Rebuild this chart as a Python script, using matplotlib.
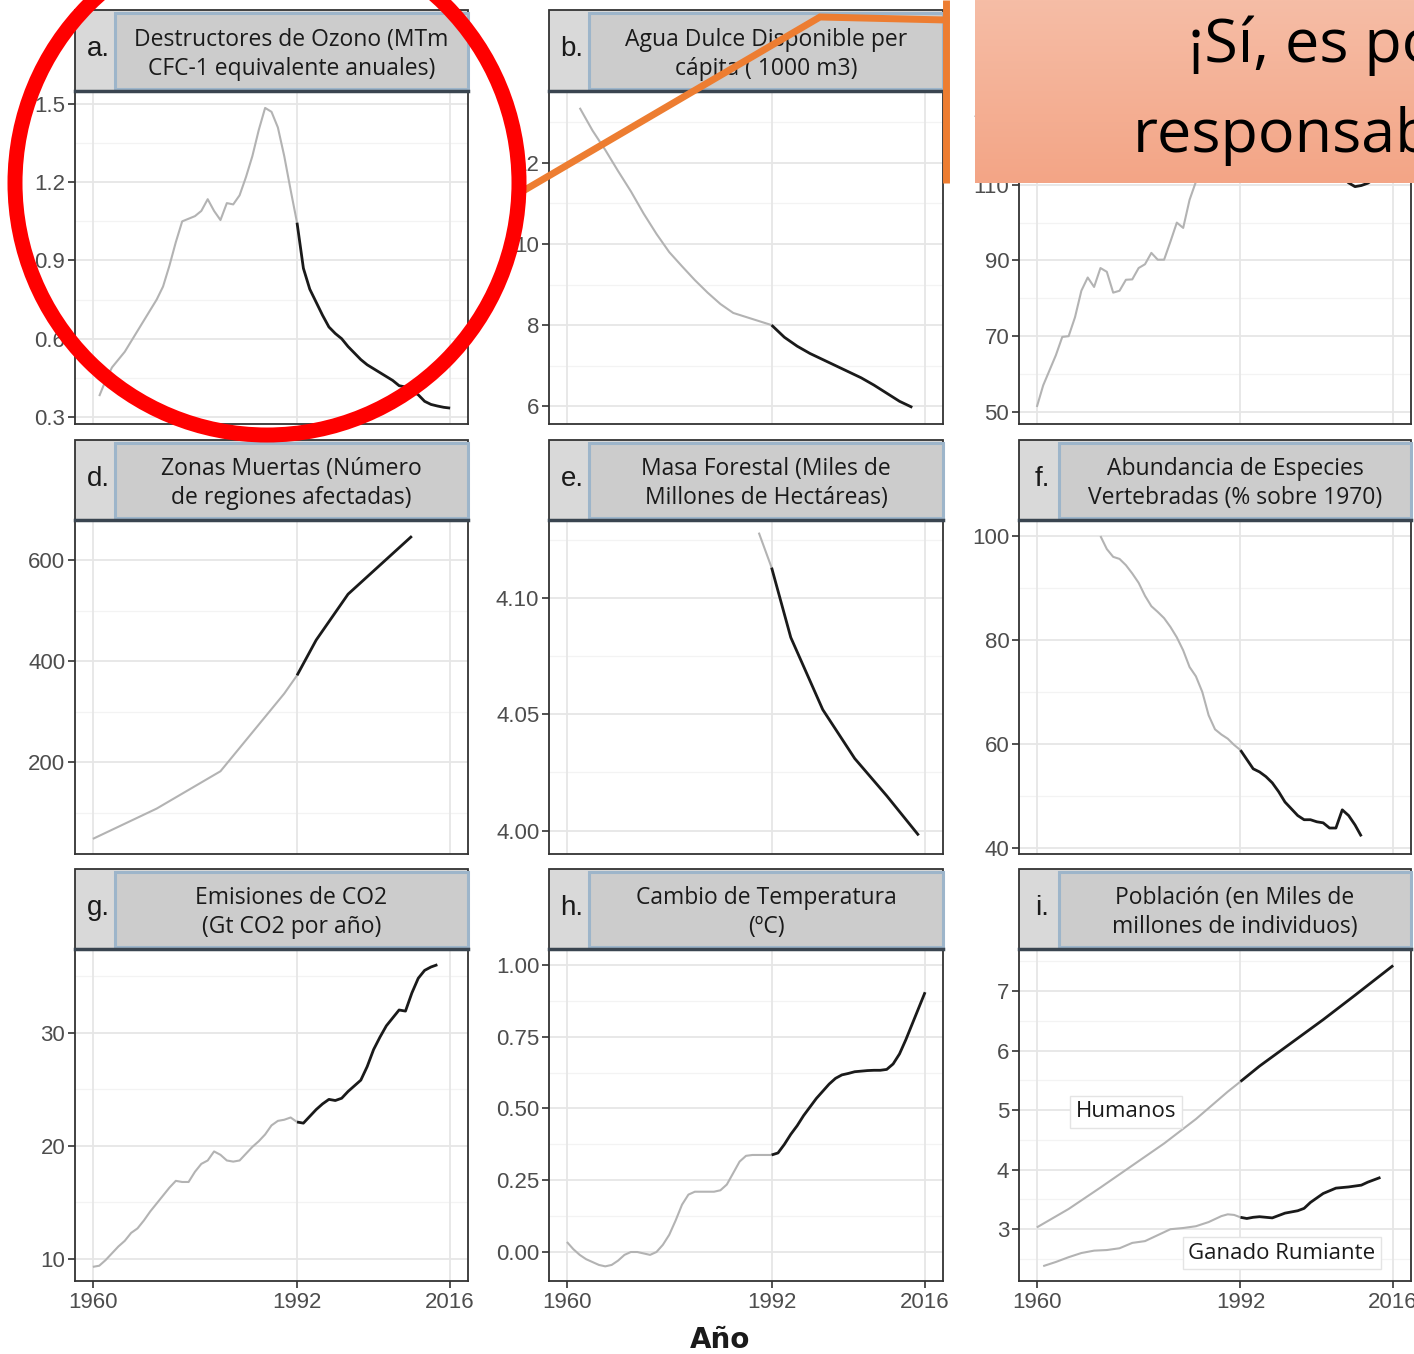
import numpy as np
import matplotlib.pyplot as plt
from matplotlib.patches import Rectangle, Ellipse
from matplotlib.lines import Line2D

W, H = 1414, 1354

# ---- data ----
years_ozone = list(range(1961, 2017))
ozone = [0.38, 0.44, 0.49, 0.52, 0.55, 0.59, 0.63, 0.67, 0.71,
         0.75, 0.80, 0.88, 0.97, 1.05, 1.06, 1.07, 1.09, 1.135, 1.09,
         1.055, 1.12, 1.115, 1.15, 1.22, 1.30, 1.40, 1.485, 1.47, 1.41,
         1.30, 1.17, 1.045, 0.87, 0.79, 0.74, 0.69, 0.645, 0.62, 0.60,
         0.57, 0.545, 0.52, 0.50, 0.485, 0.47, 0.455, 0.44, 0.42, 0.415,
         0.40, 0.385, 0.36, 0.348, 0.342, 0.337, 0.334]

years_water = [1962, 1964, 1966, 1968, 1970, 1972, 1974, 1976, 1978, 1980,
               1982, 1984, 1986, 1988, 1990, 1992, 1994, 1996, 1998, 2000,
               2002, 2004, 2006, 2008, 2010, 2012, 2014]
water = [13.36, 12.8, 12.32, 11.8, 11.3, 10.75, 10.25, 9.8, 9.45, 9.11,
         8.8, 8.52, 8.3, 8.2, 8.1, 8.0, 7.7, 7.48, 7.3, 7.15,
         7.0, 6.85, 6.7, 6.52, 6.32, 6.12, 5.97]

years_catch = list(range(1960, 2015))
catch = [51.3, 57, 61, 65, 69.8, 70, 75, 82, 85.5, 83,
         88, 87, 81.5, 82, 84.9, 85, 88, 89, 92, 90.2,
         90.2, 95, 100, 98.6, 106, 110.8, 114, 116, 118, 120,
         122, 123.5, 125, 127, 128.5, 129.5, 130.5, 129, 127, 126,
         125.5, 124, 122.5, 121, 119.5, 118, 116, 114, 112, 110.5,
         109.5, 109.8, 110.4, 111.5, 111.8]

years_dead = [1960, 1970, 1980, 1990, 1992, 1995, 2000, 2010]
dead = [48, 108, 182, 336, 372, 442, 533, 648]

years_forest = [1990, 1992, 1995, 2000, 2005, 2010, 2015]
forest = [4.128, 4.113, 4.083, 4.052, 4.031, 4.015, 3.998]

years_vert = list(range(1970, 2012))
vert = [100, 97.5, 96, 95.6, 94.4, 92.8, 91, 88.5, 86.5, 85.4,
        84.2, 82.5, 80.5, 78, 74.8, 73, 70, 65.5, 62.8, 61.8,
        61, 59.8, 58.8, 57, 55.2, 54.6, 53.7, 52.5, 50.8, 48.8,
        47.5, 46.2, 45.4, 45.4, 45, 44.8, 43.8, 43.8, 47.3, 46.2,
        44.4, 42.2]

years_co2 = list(range(1960, 2015))
co2 = [9.3, 9.4, 9.9, 10.5, 11.1, 11.6, 12.3, 12.7, 13.4, 14.2,
       14.9, 15.6, 16.3, 16.9, 16.8, 16.8, 17.7, 18.4, 18.7, 19.5,
       19.2, 18.7, 18.6, 18.7, 19.3, 19.9, 20.4, 21.0, 21.8, 22.2,
       22.3, 22.5, 22.1, 22.0, 22.6, 23.2, 23.7, 24.1, 24.0, 24.2,
       24.8, 25.3, 25.8, 27.0, 28.5, 29.6, 30.6, 31.3, 32.0, 31.9,
       33.5, 34.8, 35.5, 35.8, 36.0]

years_temp = list(range(1960, 2017))
temp = [0.035, 0.01, -0.01, -0.025, -0.035, -0.045, -0.05, -0.045, -0.03, -0.01,
        0.0, 0.0, -0.005, -0.01, 0.0, 0.025, 0.06, 0.11, 0.165, 0.20,
        0.21, 0.21, 0.21, 0.21, 0.215, 0.235, 0.275, 0.315, 0.335, 0.338,
        0.338, 0.338, 0.338, 0.345, 0.375, 0.41, 0.44, 0.475, 0.505, 0.535,
        0.56, 0.585, 0.605, 0.617, 0.622, 0.628, 0.63, 0.632, 0.633, 0.633,
        0.636, 0.655, 0.69, 0.74, 0.795, 0.85, 0.905]

years_humans = [1960, 1965, 1970, 1975, 1980, 1985, 1990, 1992, 1995, 2000, 2005, 2010, 2016]
humans = [3.03, 3.34, 3.70, 4.07, 4.44, 4.85, 5.31, 5.48, 5.74, 6.13, 6.52, 6.93, 7.43]

years_livestock = [1961, 1963, 1965, 1967, 1969, 1971, 1973, 1975, 1977, 1979,
                   1981, 1983, 1985, 1987, 1989, 1990, 1991, 1992, 1993, 1994,
                   1995, 1997, 1999, 2001, 2002, 2003, 2005, 2007, 2009, 2011,
                   2012, 2014]
livestock = [2.38, 2.45, 2.53, 2.6, 2.64, 2.65, 2.68, 2.77, 2.80, 2.9,
             3.0, 3.02, 3.05, 3.12, 3.22, 3.25, 3.24, 3.2, 3.18, 3.2,
             3.21, 3.19, 3.27, 3.31, 3.35, 3.45, 3.6, 3.69, 3.71, 3.74,
             3.79, 3.87]

x_breaks = [1960, 1992, 2016]
cut_year = 1992

panels = [
    ("a.", "Destructores de Ozono (MTm\nCFC-1 equivalente anuales)",
     [(years_ozone, ozone)], (0.273, 1.546), [0.3, 0.6, 0.9, 1.2, 1.5], "{:.1f}"),
    ("b.", "Agua Dulce Disponible per\ncápita ( 1000 m3)",
     [(years_water, water)], (5.56, 13.75), [6, 8, 10, 12], "{:.0f}"),
    ("c.", "Capturas Marinas\n(Millones de Toneladas)",
     [(years_catch, catch)], (46.8, 134.5), [50, 70, 90, 110, 130], "{:.0f}"),
    ("d.", "Zonas Muertas (Número\nde regiones afectadas)",
     [(years_dead, dead)], (18, 678), [200, 400, 600], "{:.0f}"),
    ("e.", "Masa Forestal (Miles de\nMillones de Hectáreas)",
     [(years_forest, forest)], (3.990, 4.133), [4.00, 4.05, 4.10], "{:.2f}"),
    ("f.", "Abundancia de Especies\nVertebradas (% sobre 1970)",
     [(years_vert, vert)], (38.8, 102.9), [40, 60, 80, 100], "{:.0f}"),
    ("g.", "Emisiones de CO2\n(Gt CO2 por año)",
     [(years_co2, co2)], (8.05, 37.3), [10, 20, 30], "{:.0f}"),
    ("h.", "Cambio de Temperatura\n(ºC)",
     [(years_temp, temp)], (-0.101, 1.052), [0.00, 0.25, 0.50, 0.75, 1.00], "{:.2f}"),
    ("i.", "Población (en Miles de\nmillones de individuos)",
     [(years_humans, humans), (years_livestock, livestock)], (2.13, 7.69), [3, 4, 5, 6, 7], "{:.0f}"),
]

# layout in pixels (left, right) / (top, bottom)
cols = [(75, 468), (549, 943), (1019, 1411)]
plot_rows = [(92, 424), (521, 854), (950, 1281)]
strip_rows = [(10, 92), (440, 521), (869, 950)]


def px_rect(x0, y0, x1, y1):
    return [x0 / W, 1 - y1 / H, (x1 - x0) / W, (y1 - y0) / H]


fig = plt.figure(figsize=(W / 100, H / 100), dpi=100)
fig.patch.set_facecolor("white")

tick_font = "Liberation Sans"
title_font = "Open Sans"

for i, (letter, title, series, ylim, yticks, fmt) in enumerate(panels):
    r, c = divmod(i, 3)
    x0, x1 = cols[c]
    y0, y1 = plot_rows[r]
    ax = fig.add_axes(px_rect(x0, y0, x1, y1))
    ax.set_xlim(1957.2, 2018.8)
    ax.set_ylim(*ylim)

    # grid (ggplot theme_bw style)
    step = yticks[1] - yticks[0]
    ext = [yticks[0] - step] + list(yticks) + [yticks[-1] + step]
    minors = [(a + b) / 2 for a, b in zip(ext[:-1], ext[1:])]
    minors = [m for m in minors if ylim[0] < m < ylim[1]]
    for m in minors:
        ax.axhline(m, color="#f3f3f3", lw=0.9, zorder=0)
    for t in yticks:
        ax.axhline(t, color="#e6e6e6", lw=1.3, zorder=0)
    for t in x_breaks:
        ax.axvline(t, color="#e6e6e6", lw=1.3, zorder=0)

    for yrs, vals in series:
        yrs = np.array(yrs, float)
        vals = np.array(vals, float)
        pre = yrs <= cut_year
        post = yrs >= cut_year
        ax.plot(yrs[pre], vals[pre], color="#b3b3b3", lw=1.5, zorder=2,
                solid_capstyle="butt")
        ax.plot(yrs[post], vals[post], color="#1a1a1a", lw=2.0, zorder=3,
                solid_capstyle="butt")

    ax.set_yticks(yticks)
    ax.set_yticklabels([fmt.format(t) for t in yticks])
    ax.set_xticks(x_breaks)
    for sp in ax.spines.values():
        sp.set_color("#333333")
        sp.set_linewidth(1.3)
    ax.tick_params(axis="y", length=5, width=1.2, color="#333333",
                   labelsize=16, labelcolor="#4d4d4d", pad=2)
    if r == 2:
        ax.set_xticklabels([str(t) for t in x_breaks])
        ax.tick_params(axis="x", length=5, width=1.2, color="#333333",
                       labelsize=16, labelcolor="#4d4d4d", pad=3)
    else:
        ax.tick_params(axis="x", length=0, labelbottom=False)
    for lab in ax.get_xticklabels() + ax.get_yticklabels():
        lab.set_family(tick_font)

    if letter == "i.":
        lab_style = dict(ha="center", va="center", fontsize=16,
                         family=title_font, color="#1a1a1a", zorder=5,
                         bbox=dict(boxstyle="square,pad=0.25", fc="white",
                                   ec="#e4e4e4", lw=1.0))
        ax.text(1974, 4.97, "Humanos", **lab_style)
        ax.text(1998.5, 2.6, "Ganado Rumiante", **lab_style)

    # strip
    s0, s1 = strip_rows[r]
    sax = fig.add_axes(px_rect(x0, s0, x1, s1))
    sax.set_xlim(0, 1)
    sax.set_ylim(0, 1)
    sax.axis("off")
    wpx = x1 - x0
    sax.add_patch(Rectangle((0, 0), 1, 1, fc="#d9d9d9", ec="#333333", lw=1.3,
                            transform=sax.transAxes, clip_on=False))
    bx = 40 / wpx
    sax.add_patch(Rectangle((bx, 0.04), 1 - bx, 0.92, fc="#cccccc",
                            ec="#9db5ca", lw=2.2, transform=sax.transAxes,
                            clip_on=False))
    sax.plot([0, 1], [0.01, 0.01], color="#3a4550", lw=2.5,
             transform=sax.transAxes, clip_on=False)
    sax.text(23 / wpx, 0.52, letter, ha="center", va="center", fontsize=20,
             family=tick_font, color="#1a1a1a")
    sax.text((bx + 1) / 2, 0.46, title, ha="center", va="center",
             fontsize=16.5, family=title_font, color="#1a1a1a",
             linespacing=1.3, multialignment="center")

fig.text(720 / W, 1 - 1340 / H, "Año", ha="center", va="center",
         fontsize=20, fontweight="bold", family="DejaVu Sans", color="#1a1a1a")

# callout box with gradient fill
bax = fig.add_axes(px_rect(975, 0, 1414, 183))
grad = np.linspace(0, 1, 100).reshape(-1, 1)
top_c = np.array([246, 189, 166]) / 255
bot_c = np.array([243, 165, 134]) / 255
img = top_c[None, None, :] * (1 - grad[:, :, None]) + bot_c[None, None, :] * grad[:, :, None]
bax.imshow(img, aspect="auto", extent=(0, 1, 0, 1))
bax.axis("off")
bax.set_zorder(5)

fig.text(1188 / W, 1 - 62 / H, "¡Sí, es posible", fontsize=44,
         family=title_font, color="black", va="baseline", ha="left", zorder=12)
fig.text(1133 / W, 1 - 152 / H, "responsables", fontsize=44,
         family=title_font, color="black", va="baseline", ha="left", zorder=12)

# orange connector
orange = "#ed7d31"
fig.add_artist(Line2D([523 / W, 820 / W, 946 / W], [1 - 191 / H, 1 - 17 / H, 1 - 20 / H],
                      color=orange, lw=5, zorder=9, solid_joinstyle="miter"))
fig.add_artist(Line2D([946 / W, 946 / W], [1.0, 1 - 183 / H],
                      color=orange, lw=5, zorder=9, solid_capstyle="butt"))

# red highlight ring around panel a
fig.add_artist(Ellipse((267 / W, 1 - 183 / H), 2 * 252 / W, 2 * 252 / H,
                       transform=fig.transFigure, fill=False, ec="#ff0000",
                       lw=10.8, zorder=10))

fig.savefig("out.png", dpi=100)
